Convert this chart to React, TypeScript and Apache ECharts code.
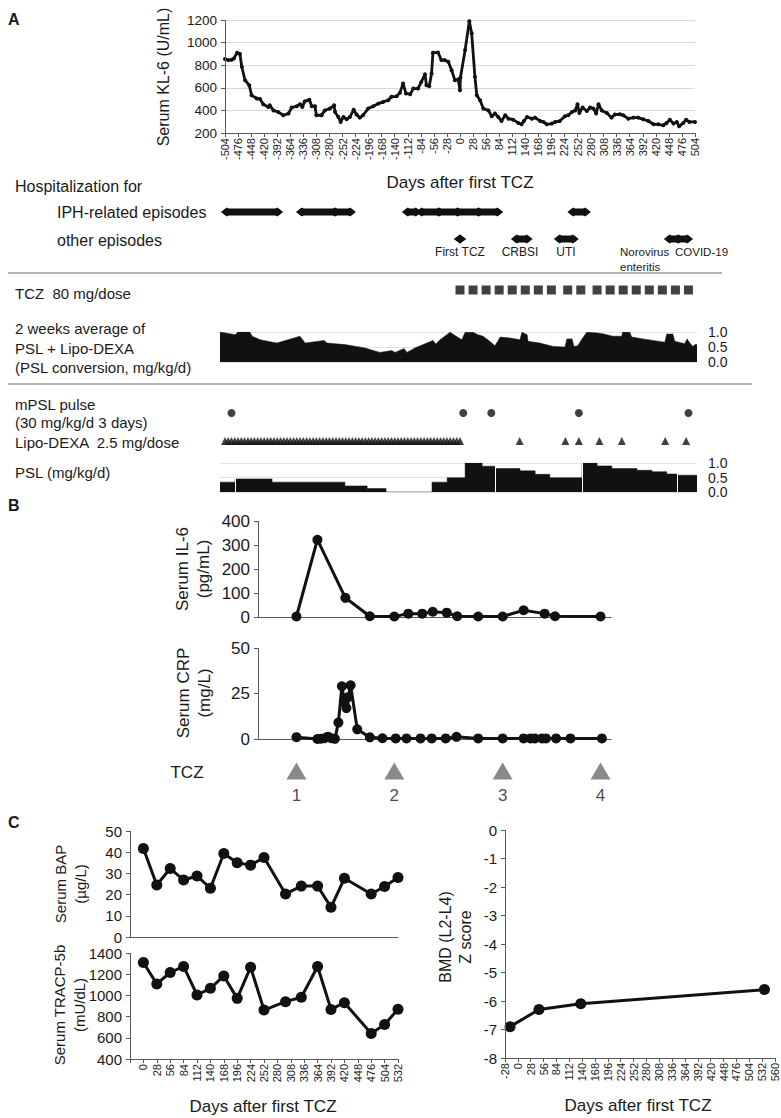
import React, { useEffect, useRef } from "react";
import * as echarts from "echarts";

const FONT = "'Liberation Sans', Arial, Helvetica, sans-serif";
const TXT = "#1a1a1a";
const AX = "#595959";
const GRIDC = "#d9d9d9";
const INK = "#111111";

// ---------- Panel A: KL-6 ----------
const KL6_DAYS = [-504,-497,-490,-485,-478,-472,-468,-461,-452,-447,-436,-429,-422,-411,-408,-400,-390,-379,-368,-361,-350,-343,-338,-333,-323,-318,-311,-308,-297,-290,-279,-270,-268,-261,-256,-250,-243,-236,-228,-222,-215,-208,-197,-186,-175,-165,-154,-147,-136,-129,-122,-116,-107,-100,-90,-83,-75,-72,-66,-61,-58,-47,-40,-33,-25,-18,-11,-4,0,1,11,20,25,32,36,43,50,61,68,75,82,89,97,104,114,125,132,137,144,154,161,172,179,186,197,204,214,225,232,240,247,252,256,263,272,279,286,292,297,304,315,325,332,343,350,361,372,382,393,404,415,425,436,443,450,458,465,470,479,485,492,504];
const KL6_VALUES = [855,845,848,860,910,900,786,667,623,535,505,500,455,430,445,400,386,357,372,425,437,455,430,480,495,437,437,357,357,400,416,445,386,342,298,342,321,342,407,363,336,357,416,437,460,475,490,520,525,555,638,550,543,593,593,652,720,623,614,727,910,913,845,845,830,756,667,673,579,691,934,1190,1082,697,534,490,416,400,348,372,342,306,357,327,318,289,277,306,342,327,336,306,298,277,283,298,306,348,357,386,400,455,377,425,395,425,416,372,455,400,377,336,363,366,357,327,336,336,321,306,277,277,268,289,318,283,298,259,289,318,298,298];

// Hospitalizations [start day, end day]
const IPH_EPISODES = [[-500,-392],[-339,-268],[-268,-236],[-112,-95],[-82,-45],[-45,-5],[-5,40],[40,80],[243,268]];
const OTHER_EPISODES = [[0,0],[122,143],[214,242],[450,468],[468,487]];

const TCZ_DOSE_DAYS = [0,28,56,84,112,140,168,196,231,259,294,322,350,378,406,434,462,490];

// 2 weeks average of PSL + Lipo-DEXA (mg/kg/d)
const AVG_DAYS = [-504,-472,-466,-441,-436,-419,-384,-335,-324,-284,-278,-240,-198,-166,-141,-134,-115,-109,-92,-67,-54,-48,-39,-29,-18,1,7,14,31,41,52,66,77,83,88,109,130,134,145,147,172,200,225,229,240,244,252,261,271,293,305,326,345,347,362,366,390,411,436,440,453,457,478,483,489,495,500,504];
const AVG_VALUES = [1.0,0.91,1.0,1.0,0.86,0.74,0.63,0.86,0.63,0.72,0.63,0.58,0.47,0.32,0.38,0.32,0.45,0.32,0.47,0.63,0.72,0.6,0.74,0.86,0.99,0.8,0.74,0.99,0.99,0.91,0.86,0.69,0.54,0.69,0.83,0.8,0.74,0.99,0.91,0.69,0.63,0.52,0.5,0.77,0.77,0.52,0.54,0.77,0.99,0.97,0.94,0.86,0.86,1.0,0.99,0.83,0.77,0.72,0.66,0.93,0.93,0.69,0.61,0.77,0.63,0.52,0.58,0.58];

const MPSL_DAYS = [-490,7,67,255,490];
const LIPO_DAYS = [-504,-497,-490,-483,-476,-469,-462,-455,-448,-441,-434,-427,-420,-413,-406,-399,-392,-385,-378,-371,-364,-357,-350,-343,-336,-329,-322,-315,-308,-301,-294,-287,-280,-273,-266,-259,-252,-245,-238,-231,-224,-217,-210,-203,-196,-189,-182,-175,-168,-161,-154,-147,-140,-133,-126,-119,-112,-105,-98,-91,-84,-77,-70,-63,-56,-49,-42,-35,-28,-21,-14,-7,0,128,226,255,299,347,440,485];

// PSL (mg/kg/d), step values starting at each day
const PSL_DAYS = [-504,-472,-394,-240,-193,-153,-56,-24,14,50,77,130,162,193,261,293,324,377,409,440,462,504];
const PSL_VALUES = [0.34,0.45,0.34,0.21,0.12,0,0.34,0.49,1.0,0.89,0.81,0.73,0.61,0.49,1.0,0.9,0.81,0.75,0.7,0.62,0.58,0.58];
const PSL_BREAKS = [-472,77,261,462];

// ---------- Panel B ----------
const IL6_DAYS = [0,6,14,21,28,32,36,39,43,46,52,59,65,71,74,87];
const IL6_VALUES = [2,322,80,3,2,14,14,22,18,3,2,2,28,14,3,2];
const CRP_DAYS = [0,6,7,8,9,10,11,12,13,13.8,14.3,14.8,15.5,17.4,21,24.6,28.4,31.5,35.5,38.7,42.7,45.8,52,59,65,67,68.2,70.3,71.4,74.3,78.4,87.4];
const CRP_VALUES = [1,0,0.2,0.4,1.3,0.4,0.1,9,29,20,17,23,29.5,5.3,0.9,0.4,0.3,0.3,0.3,0.3,0.3,1.2,0.3,0.3,0.3,0.3,0.3,0.3,0.3,0.3,0.3,0.3];
const TCZ_B_DAYS = [0,28,59,87];
const TCZ_B_LABELS = ["1","2","3","4"];

// ---------- Panel C ----------
const BONE_DAYS = [0,28,56,84,112,140,168,196,224,252,297,330,364,392,420,476,504,532];
const BAP_VALUES = [41.7,24.5,32.3,26.9,28.8,23,39.4,35,33.9,37.5,20.3,24,24,14,27.7,20.3,23.8,28.1];
const TRACP_VALUES = [1311,1108,1216,1273,1004,1067,1184,972,1266,862,941,982,1273,868,931,640,726,869];
const BMD_DAYS = [-17,46,137,537];
const BMD_VALUES = [-6.9,-6.3,-6.1,-5.6];

const zip = (xs: number[], ys: number[]) => xs.map((x, i) => [x, ys[i]]);

const txt = (text: string, x: number, y: number, size: number, o: any = {}) => ({
  type: "text",
  x,
  y,
  rotation: o.rot || 0,
  silent: true,
  style: {
    text,
    fill: TXT,
    font: `${o.bold ? "bold " : ""}${size}px ${FONT}`,
    align: o.align || "left",
    verticalAlign: "middle",
    lineHeight: o.lh,
  },
});

const hline = (x1: number, x2: number, y: number) => ({
  type: "line",
  silent: true,
  shape: { x1, y1: y, x2, y2: y },
  style: { stroke: "#6a6a6a", lineWidth: 1 },
});

// Grid boxes [left, top, width, height]
const G = {
  kl6: [225, 20, 470, 113],
  iph: [225, 207, 470, 10],
  other: [225, 234, 470, 10],
  tcz: [225, 285, 470, 10],
  avg: [220, 332, 477, 30],
  mpsl: [225, 408, 470, 10],
  lipo: [225, 436, 470, 10],
  psl: [220, 463, 477, 29],
  il6: [258, 521, 353, 96],
  crp: [258, 648, 353, 91],
  tczb: [258, 761, 353, 20],
  bap: [130, 831, 268, 106],
  tracp: [130, 953, 268, 106],
  bmd: [505, 830, 270, 228],
};

const vAxisLine = (g: number[]) => ({
  type: "line",
  silent: true,
  z: 10,
  shape: { x1: g[0] + 0.5, y1: g[1], x2: g[0] + 0.5, y2: g[1] + g[3] },
  style: { stroke: AX, lineWidth: 1 },
});

export default function App() {
  const ref = useRef<HTMLDivElement>(null);

  useEffect(() => {
    if (!ref.current) return;
    const chart = echarts.init(ref.current, undefined, { renderer: "svg" });

    const grid = (g: number[]) => ({
      left: g[0], top: g[1], width: g[2], height: g[3], containLabel: false,
    });
    const grids = [
      G.kl6, G.iph, G.other, G.tcz, G.avg, G.mpsl, G.lipo, G.psl,
      G.il6, G.crp, G.tczb, G.bap, G.tracp, G.bmd,
    ].map(grid);

    const hiddenX = (gi: number, min: number, max: number) => ({
      type: "value", gridIndex: gi, min, max, show: false,
    });
    const hiddenY = (gi: number) => ({ type: "value", gridIndex: gi, min: 0, max: 1, show: false });

    const lbl = (size: number, extra: any = {}) => ({
      color: TXT, fontSize: size, fontFamily: FONT, ...extra,
    });
    const plain = (v: number) => String(v);

    const leftY = (gi: number, min: number, max: number, interval: number, size: number, split = false) => ({
      type: "value", gridIndex: gi, min, max, interval,
      axisLine: { show: false, onZero: false },
      axisTick: { show: true, length: 4, lineStyle: { color: AX } },
      axisLabel: lbl(size, { margin: 8, formatter: plain }),
      splitLine: { show: split, lineStyle: { color: GRIDC, width: 1 } },
    });

    const rightY = (gi: number) => ({
      type: "value", gridIndex: gi, min: 0, max: 1, interval: 0.5, position: "right",
      axisLine: { show: false }, axisTick: { show: false },
      axisLabel: lbl(14, { margin: 11, formatter: (v: number) => v.toFixed(1) }),
      splitLine: { show: true, lineStyle: { color: "#e2e2e2", width: 1 } },
    });

    const bottomX = (gi: number, min: number, max: number, interval: number | undefined, labels: boolean, ticks: boolean, fmt?: any) => ({
      type: "value", gridIndex: gi, min, max, interval,
      axisLine: { show: true, onZero: false, lineStyle: { color: AX } },
      axisTick: { show: ticks, length: 4, lineStyle: { color: AX } },
      axisLabel: labels ? lbl(11, { rotate: 90, margin: 5, formatter: fmt || plain }) : { show: false },
      splitLine: { show: false },
    });

    const xAxis: any[] = [
      bottomX(0, -504, 504, 28, true, true),
      hiddenX(1, -504, 504),
      hiddenX(2, -504, 504),
      hiddenX(3, -504, 504),
      hiddenX(4, -504, 504),
      hiddenX(5, -504, 504),
      hiddenX(6, -504, 504),
      hiddenX(7, -504, 504),
      bottomX(8, -11, 90, undefined, false, false),
      bottomX(9, -11, 90, undefined, false, false),
      hiddenX(10, -11, 90),
      bottomX(11, -28, 532, 28, false, false),
      bottomX(12, -28, 532, 28, true, true, (v: number) => (v === -28 ? "" : String(v))),
      bottomX(13, -28, 560, 28, true, true),
    ];

    const yAxis: any[] = [
      leftY(0, 200, 1200, 200, 13.5, true),
      hiddenY(1),
      hiddenY(2),
      hiddenY(3),
      rightY(4),
      hiddenY(5),
      hiddenY(6),
      rightY(7),
      leftY(8, 0, 400, 100, 17),
      leftY(9, 0, 50, 25, 17),
      hiddenY(10),
      leftY(11, 0, 50, 10, 15),
      leftY(12, 400, 1400, 200, 15),
      leftY(13, -8, 0, 1, 15),
    ];

    const ROW = 0.5;
    const episodeSeries = (eps: number[][], gi: number) =>
      eps.map(([s, e]) => ({
        type: "line", xAxisIndex: gi, yAxisIndex: gi, silent: true,
        data: [[s, ROW], [e, ROW]],
        symbol: "diamond", symbolSize: [12, 9], showSymbol: true,
        lineStyle: { width: 7, color: INK, cap: "round" },
        itemStyle: { color: INK },
      }));

    const dotLine = (gi: number, data: number[][], size: number, width: number) => ({
      type: "line", xAxisIndex: gi, yAxisIndex: gi, silent: true, data,
      symbol: "circle", symbolSize: size, showSymbol: true,
      lineStyle: { width, color: INK }, itemStyle: { color: INK, borderWidth: 0 },
    });

    const series: any[] = [
      dotLine(0, zip(KL6_DAYS, KL6_VALUES), 4, 2.8),
      ...episodeSeries(IPH_EPISODES, 1),
      ...episodeSeries(OTHER_EPISODES, 2),
      {
        type: "scatter", xAxisIndex: 3, yAxisIndex: 3, silent: true,
        data: TCZ_DOSE_DAYS.map((d) => [d, ROW]),
        symbol: "rect", symbolSize: [9, 9], itemStyle: { color: INK },
      },
      {
        type: "line", xAxisIndex: 4, yAxisIndex: 4, silent: true,
        data: zip(AVG_DAYS, AVG_VALUES), symbol: "none",
        lineStyle: { width: 0.5, color: INK }, areaStyle: { color: INK, opacity: 1 },
      },
      {
        type: "scatter", xAxisIndex: 5, yAxisIndex: 5, silent: true,
        data: MPSL_DAYS.map((d) => [d, ROW]),
        symbol: "circle", symbolSize: 8, itemStyle: { color: INK },
      },
      {
        type: "scatter", xAxisIndex: 6, yAxisIndex: 6, silent: true,
        data: LIPO_DAYS.map((d) => [d, ROW]),
        symbol: "triangle", symbolSize: [8, 8], itemStyle: { color: INK },
      },
      {
        type: "line", xAxisIndex: 7, yAxisIndex: 7, silent: true,
        data: zip(PSL_DAYS, PSL_VALUES), step: "end", symbol: "none",
        lineStyle: { width: 0.5, color: INK }, areaStyle: { color: INK, opacity: 1 },
        markLine: {
          silent: true, symbol: ["none", "none"], label: { show: false },
          lineStyle: { color: "#ffffff", width: 1, type: "solid" },
          data: PSL_BREAKS.map((d) => ({ xAxis: d })),
        },
      },
      dotLine(8, zip(IL6_DAYS, IL6_VALUES), 10, 3),
      dotLine(9, zip(CRP_DAYS, CRP_VALUES), 10, 3),
      {
        type: "scatter", xAxisIndex: 10, yAxisIndex: 10, silent: true,
        data: TCZ_B_DAYS.map((d, i) => ({ value: [d, ROW], name: TCZ_B_LABELS[i] })),
        symbol: "triangle", symbolSize: [20, 17], itemStyle: { color: "#6b6b6b" },
        label: {
          show: true, position: "bottom", distance: 7, formatter: (p: any) => p.name,
          color: TXT, fontSize: 17, fontFamily: FONT,
        },
      },
      dotLine(11, zip(BONE_DAYS, BAP_VALUES), 11, 3),
      dotLine(12, zip(BONE_DAYS, TRACP_VALUES), 11, 3),
      dotLine(13, zip(BMD_DAYS, BMD_VALUES), 11, 3),
    ];

    const graphic: any[] = [
      vAxisLine(G.kl6),
      vAxisLine(G.il6),
      vAxisLine(G.crp),
      vAxisLine(G.bap),
      vAxisLine(G.tracp),
      vAxisLine(G.bmd),
      txt("A", 8, 19, 16, { bold: true }),
      txt("Serum KL-6 (U/mL)", 163, 77, 16, { rot: Math.PI / 2, align: "center" }),
      txt("Days after first TCZ", 460, 182, 17, { align: "center" }),
      txt("Hospitalization for", 15, 186, 16),
      txt("IPH-related episodes", 57, 212, 16),
      txt("other episodes", 57, 240, 16),
      txt("First TCZ", 460, 252, 12, { align: "center" }),
      txt("CRBSI", 520, 252, 12, { align: "center" }),
      txt("UTI", 566, 252, 12, { align: "center" }),
      txt("Norovirus", 620, 252, 11.5),
      txt("enteritis", 620, 267, 11.5),
      txt("COVID-19", 675, 252, 11.5),
      hline(8, 722, 273),
      txt("TCZ  80 mg/dose", 15, 293, 15),
      txt("2 weeks average of", 15, 328, 15),
      txt("PSL + Lipo-DEXA", 15, 348, 15),
      txt("(PSL conversion, mg/kg/d)", 15, 367, 15),
      hline(8, 752, 384),
      txt("mPSL pulse", 15, 404, 15),
      txt("(30 mg/kg/d 3 days)", 15, 422, 15),
      txt("Lipo-DEXA  2.5 mg/dose", 15, 442, 15),
      txt("PSL (mg/kg/d)", 15, 472, 15),
      txt("B", 8, 505, 16, { bold: true }),
      txt("Serum IL-6\n(pg/mL)", 193, 569, 17, { rot: Math.PI / 2, align: "center", lh: 21 }),
      txt("Serum CRP\n(mg/L)", 194, 693, 17, { rot: Math.PI / 2, align: "center", lh: 21 }),
      txt("TCZ", 187, 772, 17, { align: "center" }),
      txt("C", 8, 822, 16, { bold: true }),
      txt("Serum BAP\n(µg/L)", 70, 884, 15, { rot: Math.PI / 2, align: "center", lh: 20 }),
      txt("Serum TRACP-5b\n(mU/dL)", 69, 1005, 15, { rot: Math.PI / 2, align: "center", lh: 20 }),
      txt("Days after first TCZ", 263, 1106, 17, { align: "center" }),
      txt("BMD (L2-L4)\nZ score", 455, 937, 16, { rot: Math.PI / 2, align: "center", lh: 20 }),
      txt("Days after first TCZ", 638, 1105, 17, { align: "center" }),
    ];

    chart.setOption({
      animation: false,
      backgroundColor: "#ffffff",
      textStyle: { fontFamily: FONT },
      grid: grids,
      xAxis,
      yAxis,
      series,
      graphic,
    });

    return () => chart.dispose();
  }, []);

  return (
    <div
      ref={ref}
      style={{ position: "absolute", left: 0, top: 0, width: 781, height: 1118, background: "#fff" }}
    />
  );
}
